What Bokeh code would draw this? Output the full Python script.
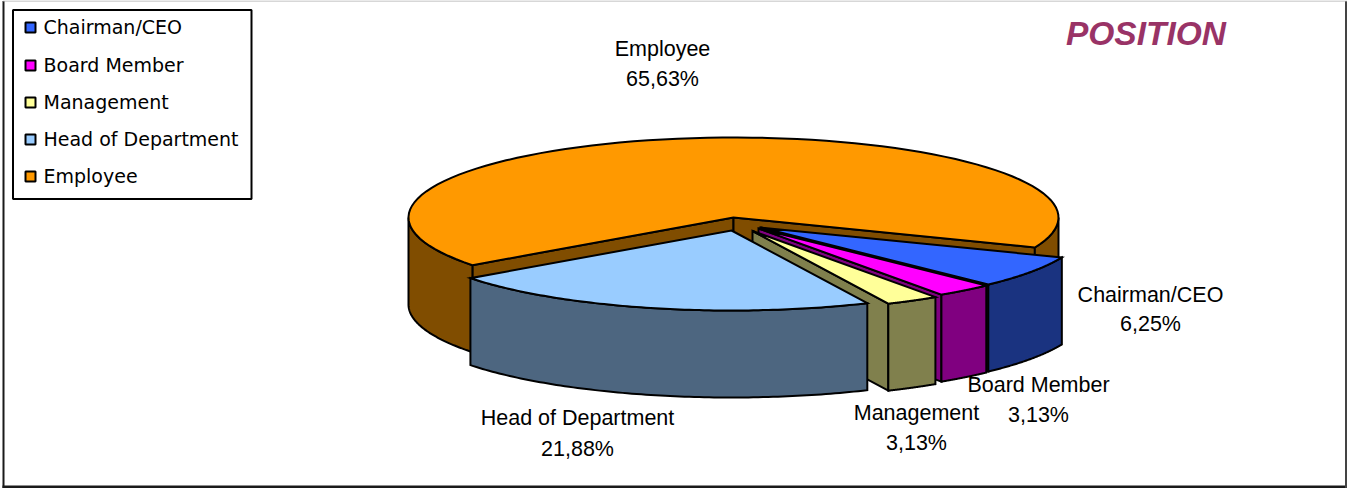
from math import pi, cos, sin
from bokeh.plotting import figure
from bokeh.models import Range1d
from bokeh.core.properties import value
from bokeh.embed import file_html
from bokeh.resources import INLINE

TITLE = "POSITION"
CATEGORIES = ["Chairman/CEO", "Board Member", "Management", "Head of Department", "Employee"]
COUNTS = [2, 1, 1, 7, 21]
PERCENT_LABELS = ["6,25%", "3,13%", "3,13%", "21,88%", "65,63%"]
TOP_COLORS = ["#3366FF", "#FF00FF", "#FFFF99", "#99CCFF", "#FF9900"]
SIDE_COLORS = ["#1A3380", "#800080", "#80804D", "#4D6680", "#804D00"]

W, H = 1347, 488
FONT = value("Liberation Sans")
CX, CY, RX, RY, DEPTH = 733.0, 217.0, 325.0, 80.0, 87.0
START_DEG = 22.0
# small angular correction of the slice boundaries for the 3-D projection (degrees)
SKEW_DEG = [0, 1.0, 0, -1.7, -2.3, 0]
EXPLODE = [(27, 10), (25, 11), (19, 13.5), (-2, 13), (0, 0)]
LABEL_POS = [(1150, 294, 323), (1038, 384, 414), (916, 412, 442), (577, 417, 448), (662, 48, 78)]

p = figure(width=W, height=H, output_backend="svg", toolbar_location=None,
           x_range=Range1d(0, W), y_range=Range1d(H, 0), min_border=0,
           margin=(0, 0, 0, 0), outline_line_color=None)
p.xaxis.visible = False
p.yaxis.visible = False
p.grid.visible = False

# frame
p.line([3, 3], [0.5, 487.5], line_color="#1A1A1A", line_width=2)
p.line([2, 1346.5], [486.5, 486.5], line_color="#1A1A1A", line_width=3)
p.line([1345.5, 1345.5], [0.5, 487.5], line_color="#444444", line_width=2)
p.line([2.5, 1346.5], [0.5, 0.5], line_color="#B0B0B0", line_width=1)

def arc(cx, cy, a, b, n=90):
    ts = [a + (b - a) * i / n for i in range(n + 1)]
    return [cx + RX * cos(t) for t in ts], [cy + RY * sin(t) for t in ts]

def draw(xs, ys, color):
    p.patch(xs, ys, fill_color=color, line_color="#000000", line_width=2, line_join="miter")

def face(cx, cy, t, color):
    ex, ey = cx + RX * cos(t), cy + RY * sin(t)
    draw([cx, ex, ex, cx], [cy, ey, ey + DEPTH, cy + DEPTH], color)

def wall(cx, cy, a, b, color):
    xs, ys = arc(cx, cy, a, b)
    draw(xs + xs[::-1], ys + [y + DEPTH for y in ys[::-1]], color)

total = sum(COUNTS)
bounds = [START_DEG]
for c in COUNTS:
    bounds.append(bounds[-1] + 360.0 * c / total)
bounds = [(b + s) * pi / 180 for b, s in zip(bounds, SKEW_DEG)]
angles = list(zip(bounds[:-1], bounds[1:]))

for i in [4, 0, 1, 2, 3]:
    a, b = angles[i]
    cx, cy = CX + EXPLODE[i][0], CY + EXPLODE[i][1]
    if cos(a) < 0:
        face(cx, cy, a, SIDE_COLORS[i])
    if cos(b) > 0:
        face(cx, cy, b, SIDE_COLORS[i])
    # outer wall only where it faces the viewer
    for lo, hi in [(0, pi), (2 * pi, 3 * pi)]:
        l, h = max(a, lo), min(b, hi)
        if h > l:
            wall(cx, cy, l, h, SIDE_COLORS[i])
    xs, ys = arc(cx, cy, a, b)
    draw([cx] + xs, [cy] + ys, TOP_COLORS[i])

# title
p.text([1145.5], [33], text=[TITLE], text_font=FONT, text_font_size="33.5px", text_font_style="bold italic",
       text_color="#993366", text_align="center", text_baseline="middle")

# legend
p.quad(left=[12.5], right=[251], top=[9.5], bottom=[198.5], fill_color="#FFFFFF",
       line_color="#000000", line_width=2)
LEG_Y = [27, 65, 102, 139, 176]
p.rect([30] * 5, LEG_Y, width=10, height=10, fill_color=TOP_COLORS, line_color="#000000", line_width=2)
p.text([43] * 5, [y - 1 for y in LEG_Y], text=CATEGORIES, text_font=value("DejaVu Sans"), text_font_size="19px",
       text_color="#000000", text_align="left", text_baseline="middle")

# data labels
for (lx, y1, y2), name, pct in zip(LABEL_POS, CATEGORIES, PERCENT_LABELS):
    p.text([lx, lx], [y1, y2], text=[name, pct], text_font=FONT, text_font_size="21.5px",
           text_color="#000000", text_align="center", text_baseline="middle")

open("out.html", "w").write(file_html(p, INLINE))
